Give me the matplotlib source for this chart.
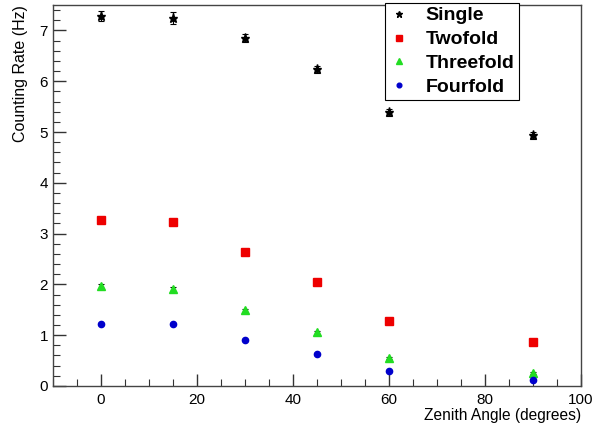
import matplotlib
matplotlib.use("Agg")
import matplotlib.pyplot as plt
from matplotlib.lines import Line2D
from matplotlib.ticker import MultipleLocator

plt.rcParams["font.family"] = ["Liberation Sans", "DejaVu Sans"]

angles = [0, 15, 30, 45, 60, 90]
single = [7.29, 7.24, 6.86, 6.24, 5.39, 4.94]
single_err = [0.10, 0.12, 0.08, 0.07, 0.07, 0.07]
twofold = [3.26, 3.22, 2.64, 2.04, 1.28, 0.86]
twofold_err = [0.05, 0.05, 0.04, 0.04, 0.03, 0.03]
threefold = [1.97, 1.91, 1.49, 1.06, 0.55, 0.25]
threefold_err = [0.04, 0.04, 0.03, 0.03, 0.02, 0.02]
fourfold = [1.22, 1.21, 0.91, 0.63, 0.30, 0.11]
fourfold_err = [0.02, 0.02, 0.02, 0.02, 0.01, 0.01]

series = [
    ("Single", single, single_err, "black", "*", 6.5),
    ("Twofold", twofold, twofold_err, "#ee0000", "s", 5.5),
    ("Threefold", threefold, threefold_err, "#22dd22", "^", 5.5),
    ("Fourfold", fourfold, fourfold_err, "#0000cc", "o", 4.5),
]

fig = plt.figure(figsize=(5.95, 4.25), dpi=100)
ax = fig.add_axes([0.089, 0.092, 0.887, 0.896])

handles = []
for name, vals, errs, color, marker, ms in series:
    ax.errorbar(angles, vals, yerr=errs, fmt="none", ecolor="black",
                elinewidth=0.8, capsize=2, capthick=0.8, zorder=2)
    ax.plot(angles, vals, linestyle="none", marker=marker, color=color,
            markersize=ms, zorder=3)
    handles.append(Line2D([], [], linestyle="none", marker=marker, color=color,
                          markersize=ms * 0.75, label=name))

ax.set_xlim(-10, 100)
ax.set_ylim(0, 7.5)
ax.xaxis.set_major_locator(MultipleLocator(20))
ax.xaxis.set_minor_locator(MultipleLocator(5))
ax.yaxis.set_major_locator(MultipleLocator(1))
ax.yaxis.set_minor_locator(MultipleLocator(0.2))
ax.tick_params(which="both", direction="in", top=False, right=False,
               labelsize=11, color="#333333")
ax.tick_params(which="major", length=9, width=1)
ax.tick_params(which="minor", length=5, width=0.8)
ax.tick_params(axis="x", pad=5)
for sp in ax.spines.values():
    sp.set_color("#444444")
    sp.set_linewidth(1.0)

ax.set_xlabel("Zenith Angle (degrees)", fontsize=11.2, loc="right", labelpad=1)
ax.set_ylabel("Counting Rate (Hz)", fontsize=11.5, loc="top", labelpad=8)

leg = ax.legend(handles=handles, loc="upper left",
                bbox_to_anchor=(385 / 595, 1 - 3 / 425), bbox_transform=fig.transFigure,
                fancybox=False, frameon=True, edgecolor="black", framealpha=1,
                prop={"weight": "bold", "size": 14}, handlelength=1.0,
                handletextpad=0.9, labelspacing=0.32, borderpad=0.2,
                borderaxespad=0)
leg.get_frame().set_linewidth(0.8)

fig.savefig("out.png", dpi=100, facecolor="white")
